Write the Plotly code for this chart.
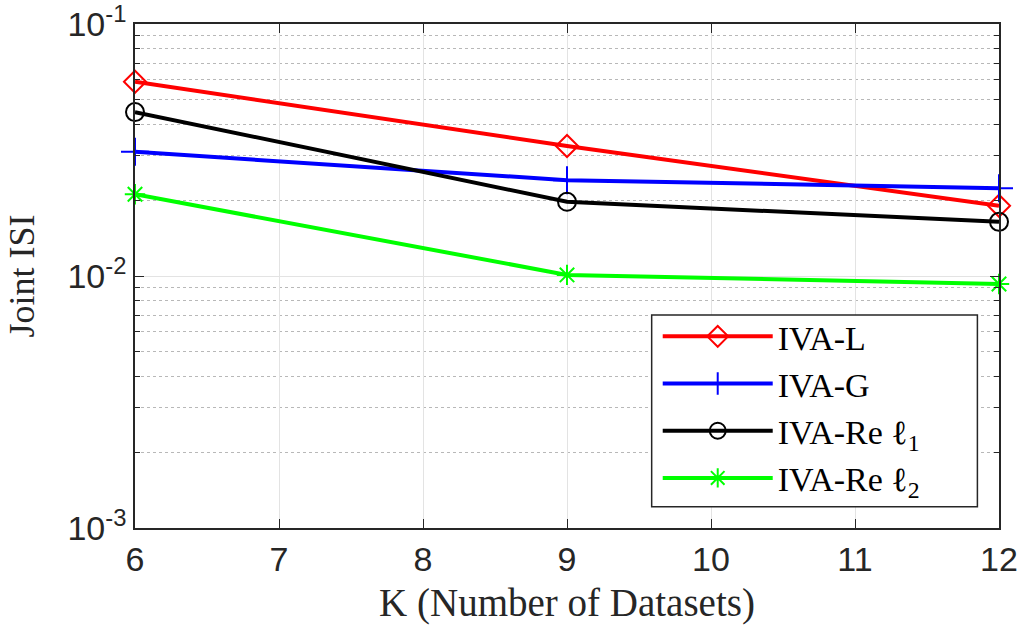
import plotly.graph_objects as go

# Number of datasets K
k_values = [6, 9, 12]

# Joint ISI per algorithm
iva_l = [0.059, 0.0328, 0.0190]
iva_g = [0.0311, 0.0240, 0.0223]
iva_re_l1 = [0.0447, 0.0197, 0.0164]
iva_re_l2 = [0.0211, 0.0101, 0.0093]

series = [
    ("IVA-L", iva_l, "#ff0000", "diamond-open", 17),
    ("IVA-G", iva_g, "#0000ff", "cross-thin-open", 20),
    ("IVA-Re ℓ<sub>1</sub>", iva_re_l1, "#000000", "circle-open", 18),
    ("IVA-Re ℓ<sub>2</sub>", iva_re_l2, "#00ff00", "asterisk-open", 17),
]

y_tickvals = [1e-3, 1e-2, 1e-1]
y_ticktext = ["10<sup>-3</sup>", "10<sup>-2</sup>", "10<sup>-1</sup>"]

axis_col = "#262626"

fig = go.Figure()
for name, vals, col, sym, size in series:
    fig.add_trace(go.Scatter(
        x=k_values, y=vals, name=name, mode="lines+markers",
        cliponaxis=False,
        line=dict(color=col, width=4),
        marker=dict(symbol=sym, size=size, color=col,
                    line=dict(color=col, width=2)),
    ))

# legend frame drawn as a shape so it can be wider than the entries
fig.add_shape(type="rect", xref="paper", yref="paper",
              x0=0.598, x1=0.975, y0=0.042, y1=0.4226,
              line=dict(color=axis_col, width=1.5), fillcolor="white",
              layer="above")

fig.update_layout(
    width=1025, height=630,
    margin=dict(l=135, r=26, t=24, b=102),
    paper_bgcolor="white", plot_bgcolor="white",
    font=dict(family="Liberation Sans", color=axis_col, size=34),
    legend=dict(
        x=0.605, y=0.437, xanchor="left", yanchor="top",
        bgcolor="rgba(0,0,0,0)", borderwidth=0,
        font=dict(family="Liberation Serif", size=34, color="#000000"),
        itemwidth=110,
    ),
)

fig.update_xaxes(
    range=[6, 12], tickvals=list(range(6, 13)), automargin=False,
    ticklabeloverflow="allow",
    ticks="inside", ticklen=9, tickwidth=1.2, tickcolor=axis_col,
    showline=True, linecolor=axis_col, linewidth=1.5, mirror="ticks",
    showgrid=True, gridcolor="#e3e3e3", gridwidth=1.2,
    zeroline=False,
    tickfont=dict(family="Liberation Sans", size=34, color=axis_col),
    title=dict(text="K (Number of Datasets)", standoff=12,
               font=dict(family="Liberation Serif", size=39, color=axis_col)),
)

fig.update_yaxes(
    type="log", range=[-3, -1], automargin=False,
    ticklabeloverflow="allow",
    tickvals=y_tickvals, ticktext=y_ticktext,
    ticks="inside", ticklen=9, tickwidth=1.2, tickcolor=axis_col,
    showline=True, linecolor=axis_col, linewidth=1.5, mirror="ticks",
    showgrid=True, gridcolor="#e3e3e3", gridwidth=1.2,
    zeroline=False,
    minor=dict(dtick="D1", ticks="inside", ticklen=5, tickcolor=axis_col,
               showgrid=True, gridcolor="#b8b8b8", griddash="dot", gridwidth=1),
    tickfont=dict(family="Liberation Sans", size=34, color=axis_col),
    title=dict(text="Joint ISI", standoff=22,
               font=dict(family="Liberation Serif", size=36, color=axis_col)),
)

fig.write_html("out.html")
